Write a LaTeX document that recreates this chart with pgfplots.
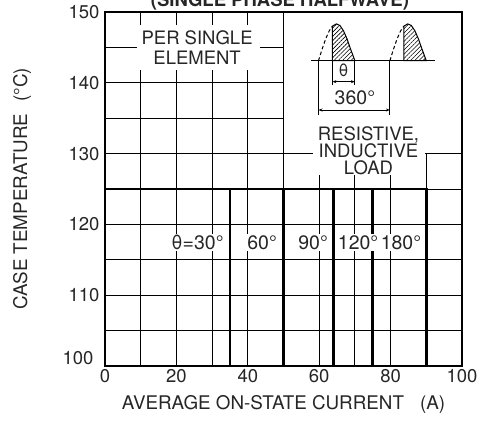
\documentclass[border=0pt]{standalone}
\usepackage{fontspec}
\setmainfont{TeX Gyre Heros}
\usepackage{pgfplots}
\pgfplotsset{compat=1.18}
\usetikzlibrary{patterns.meta,arrows.meta}
\newcommand{\fs}{\fontsize{18.5}{20}\selectfont}
\newcommand{\ft}{\fontsize{18.5}{20}\selectfont}
\newcommand{\fl}{\fontsize{18.8}{21}\selectfont}
\newcommand{\fd}{\fontsize{19.5}{21}\selectfont}
\begin{document}
\begin{tikzpicture}
\begin{axis}[
  at={(0,0)}, anchor=south west,
  scale only axis, width=357pt, height=354pt,
  xmin=0,xmax=100,ymin=100,ymax=150,
  xtick={0,20,...,100}, minor xtick={10,30,50,70,90},
  ytick={100,110,...,150}, minor ytick={105,115,...,145},
  yticklabels={,110,120,130,140,150},
  grid=both,
  grid style={black, line width=0.9pt},
  major tick length=0pt, minor tick length=0pt,
  axis line style={line width=2.8pt},
  tick label style={font=\ft, text=black!85},
  yticklabel style={xshift=-2pt},
  xticklabel style={yshift=0pt},
  /pgf/number format/assume math mode=true,
  xlabel={AVERAGE ON-STATE CURRENT\hspace{16pt}(A)},
  ylabel={CASE TEMPERATURE\hspace{12pt}(°C)},
  label style={font=\fl, text=black!85},
  xlabel style={at={(axis description cs:0.5,-0.110)}, anchor=center},
  ylabel style={at={(axis description cs:-0.2325,0.5)}, anchor=center},
  clip=false,
]
% blank regions over the grid
\fill[white] (axis cs:50.25,130.1) rectangle (axis cs:100,150);
\fill[white] (axis cs:8.9,141.8) rectangle (axis cs:43.4,148.2);
\fill[white] (axis cs:58.4,127.0) rectangle (axis cs:89.6,130.3);
% inset sketch
\addplot[black, line width=1pt, dash pattern=on 3.5pt off 2.5pt] coordinates {(59.8,143.12)(60.8,144.73)(61.8,146.18)(62.8,147.33)(63.7,148.0)};
\addplot[black, line width=1pt, pattern={Lines[angle=45,distance=3pt,line width=0.6pt]}] coordinates {(63.7,143.12)(63.7,148.0)(64.8,148.32)(65.8,148.1)(66.8,147.35)(67.8,146.2)(68.8,144.75)(69.5,143.8)(70,143.12)} -- cycle;
\addplot[black, line width=1pt, dash pattern=on 3.5pt off 2.5pt] coordinates {(79.8,143.12)(80.8,144.73)(81.8,146.18)(82.8,147.33)(83.7,148.0)};
\addplot[black, line width=1pt, pattern={Lines[angle=45,distance=3pt,line width=0.6pt]}] coordinates {(83.7,143.12)(83.7,148.0)(84.8,148.32)(85.8,148.1)(86.8,147.35)(87.8,146.2)(88.8,144.75)(89.5,143.8)(90,143.12)} -- cycle;
\addplot[black, line width=0.9pt] coordinates {(57.7,143.12)(92.3,143.12)};
\addplot[black, line width=0.9pt] coordinates {(63.7,143.12)(63.7,139.7)};
\addplot[black, line width=0.9pt] coordinates {(70,143.12)(70,139.7)};
\addplot[black, line width=0.9pt] coordinates {(59.8,143.12)(59.8,135.45)};
\addplot[black, line width=0.9pt] coordinates {(79.8,143.12)(79.8,135.45)};
\addplot[black, line width=0.7pt, arrows={Stealth[length=4pt,width=3pt]-Stealth[length=4pt,width=3pt]}] coordinates {(63.7,140.16)(70,140.16)};
\addplot[black, line width=0.7pt, arrows={Stealth[length=4pt,width=3pt]-Stealth[length=4pt,width=3pt]}] coordinates {(59.8,136.16)(79.8,136.16)};
\node[font=\fontsize{17}{17}\selectfont, text=black!85] at (axis cs:66.8,141.8) {θ};
\node[font=\fd, text=black!85] at (axis cs:70.0,137.85) {360°};
% annotation texts
\node[font=\fs, text=black!85, align=center] at (axis cs:25.8,145.0) {PER SINGLE\\ELEMENT};
\node[font=\fs, text=black!85, anchor=base] at (axis cs:73.8,131.92) {RESISTIVE,};
\node[font=\fs, text=black!85, anchor=base] at (axis cs:73.8,129.38) {INDUCTIVE};
\node[font=\fs, text=black!85, anchor=base] at (axis cs:73.8,126.98) {LOAD};
% curves
\addplot[black, line width=2.6pt, line join=miter] coordinates {(0,125)(35,125)(35,100)};
\addplot[black, line width=2.6pt, line join=miter] coordinates {(0,125)(50,125)(50,100)};
\addplot[black, line width=2.6pt, line join=miter] coordinates {(0,125)(64,125)(64,100)};
\addplot[black, line width=2.6pt, line join=miter] coordinates {(0,125)(75,125)(75,100)};
\addplot[black, line width=2.6pt, line join=miter] coordinates {(0,125)(90,125)(90,100)};
% curve labels
\node[font=\fd, text=black!85, fill=white, inner sep=1pt] at (axis cs:25.9,117.45) {θ=30°};
\node[font=\fd, text=black!85, fill=white, inner sep=1pt] at (axis cs:44.0,117.45) {60°};
\node[font=\fd, text=black!85, fill=white, inner sep=1pt] at (axis cs:58.3,117.45) {90°};
\node[font=\fd, text=black!85, fill=white, inner sep=1pt] at (axis cs:70.9,117.45) {120°};
\node[font=\fd, text=black!85, fill=white, inner sep=1pt] at (axis cs:82.9,117.45) {180°};
% title
\node[font=\bfseries\fs, text=black!85, anchor=base] at (axis cs:49,150.75) {(SINGLE PHASE HALFWAVE)};
\node[anchor=east, font=\ft, text=black!85] at ([xshift=-8pt]axis cs:0,101.15) {100};
\draw[line width=2.8pt, line join=miter] (rel axis cs:0,0) rectangle (rel axis cs:1,1);
\end{axis}
\pgfresetboundingbox
\path[use as bounding box] (-105pt,-71pt) rectangle (377pt,366pt);
\end{tikzpicture}
\end{document}
